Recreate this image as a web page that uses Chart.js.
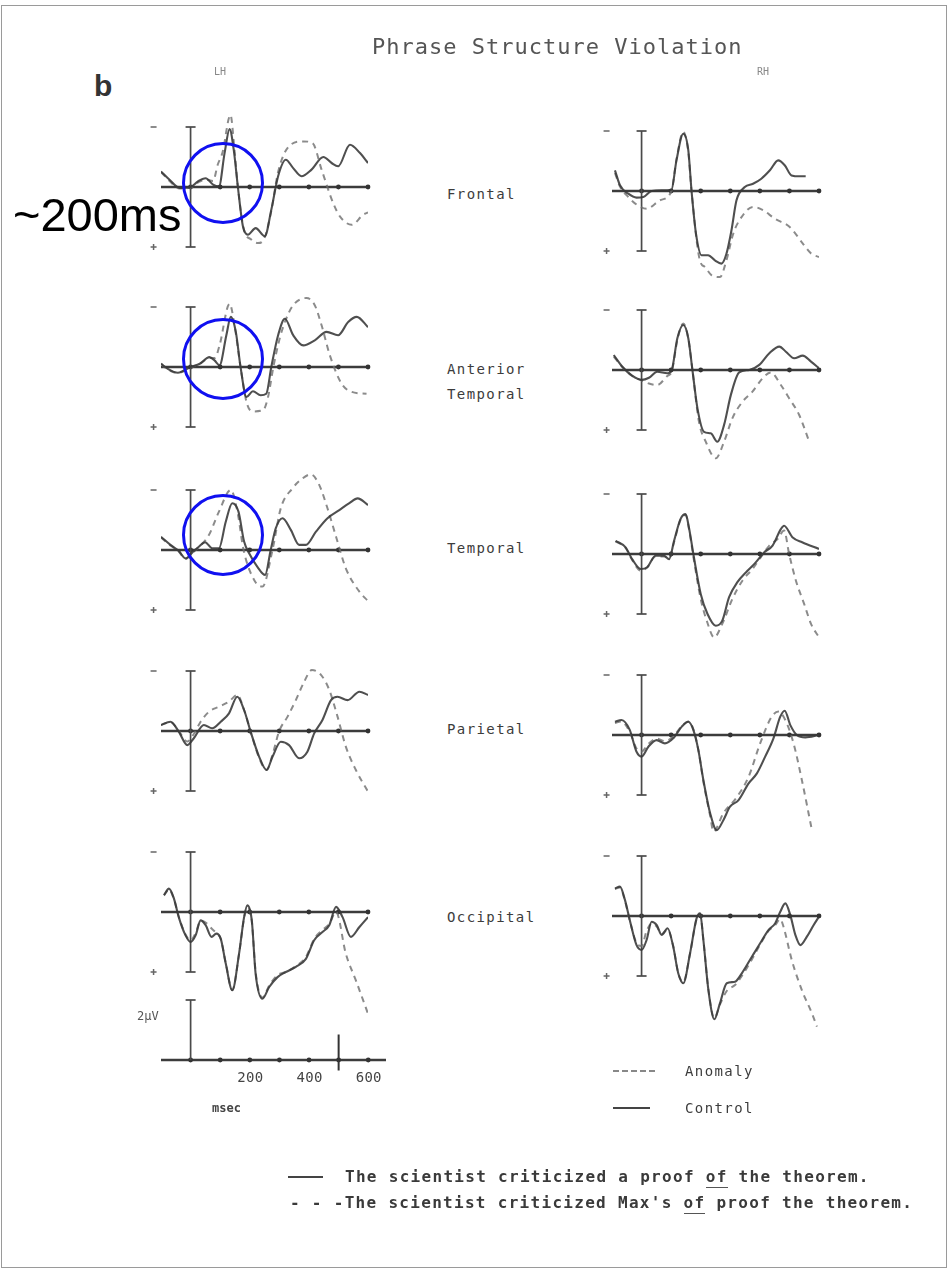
<!DOCTYPE html>
<html><head><meta charset="utf-8">
<script src="https://cdn.jsdelivr.net/npm/chart.js@4.4.0/dist/chart.umd.min.js"></script>
<style>
html,body{margin:0;padding:0;background:#fff;}
#page{position:relative;width:951px;height:1274px;overflow:hidden;background:#fff;}
#frame{position:absolute;left:1px;top:5px;width:944px;height:1261px;border:1.5px solid #9a9a9a;}
canvas.p{position:absolute;}
.t{position:absolute;font-family:"DejaVu Sans Mono","Liberation Mono",monospace;color:#444;white-space:pre;line-height:1;}
.circ{position:absolute;width:82px;height:82px;border:3px solid #1010f0;border-radius:50%;box-sizing:border-box;}
.u{border-bottom:1.5px solid #555;padding-bottom:1px;}
</style>
</head><body>
<div id="page"><div id="frame"></div></div>
<script>
// ---------------- DATA (time in ms, amplitude in µV; negative plotted up) ----------------
const tickTimes = [0, 100, 200, 300, 400, 500, 600];
const scaleTickValues = [200, 400, 600];
const scaleTickLabels = ['200', '400', '600'];
const regionNames = ['Frontal', 'Anterior\nTemporal', 'Temporal', 'Parietal', 'Occipital'];
const legendLabels = ['Anomaly', 'Control'];
const sentenceControl = ['The scientist criticized a proof ', 'of', ' the theorem.'];
const sentenceAnomaly = ['- - -The scientist criticized Max\'s ', 'of', ' proof the theorem.'];

// LH Frontal
const lhFrontalControl = [[-100,-0.52],[-71,-0.24],[-37,0.03],[0,0],[25,-0.19],[51,-0.29],[76,-0.08],[96,-0.02],[115,-1.13],[132,-1.93],[146,-1.24],[160,0],[177,1.31],[194,1.59],[220,1.37],[251,1.64],[273,0.76],[296,-0.36],[322,-0.91],[347,-0.63],[375,-0.36],[409,-0.58],[449,-1.0],[477,-0.8],[499,-0.69],[539,-1.41],[573,-1.13],[600,-0.8]];
const lhFrontalAnomaly = [[-100,-0.5],[-71,-0.2],[-37,0.05],[0,0.02],[25,-0.15],[51,-0.25],[76,-0.2],[92,-0.75],[108,-1.15],[135,-2.4],[148,-1.3],[160,0],[180,1.4],[205,1.75],[228,1.87],[250,1.7],[273,0.8],[296,-0.5],[333,-1.36],[381,-1.52],[412,-1.47],[443,-0.58],[482,0.53],[505,0.98],[545,1.26],[584,0.92],[600,0.85]];
// LH Anterior Temporal
const lhAntTempControl = [[-100,-0.11],[-77,0.06],[-43,0.19],[0,0],[31,-0.11],[64,-0.33],[81,-0.22],[98,-0.06],[121,-1.06],[136,-1.67],[153,-1.17],[169,0],[189,1.0],[211,0.81],[237,0.94],[256,0.89],[273,0],[296,-1.06],[319,-1.61],[347,-1.06],[381,-0.72],[420,-0.89],[460,-1.17],[499,-1.06],[533,-1.5],[562,-1.67],[600,-1.33]];
const lhAntTempAnomaly = [[-100,-0.1],[-77,0.08],[-43,0.2],[0,0.02],[31,-0.1],[64,-0.3],[82,-0.3],[98,-0.72],[132,-2.11],[150,-1.3],[169,0],[190,1.2],[211,1.48],[245,1.44],[262,1.0],[280,0],[300,-0.9],[319,-1.5],[347,-2.06],[392,-2.3],[420,-2.06],[443,-1.39],[471,-0.39],[511,0.56],[545,0.83],[595,0.89]];
// LH Temporal
const lhTemporalControl = [[-100,-0.44],[-68,-0.17],[-40,0.03],[-17,0.28],[6,0.08],[28,-0.11],[49,-0.26],[73,-0.06],[96,-0.06],[119,-0.94],[141,-1.56],[162,-1.28],[181,-0.28],[198,0.11],[226,0.56],[252,0.83],[271,0],[288,-0.72],[311,-1.06],[339,-0.67],[367,-0.17],[390,-0.17],[424,-0.61],[463,-1.06],[503,-1.33],[537,-1.56],[565,-1.72],[600,-1.5]];
const lhTemporalAnomaly = [[-100,-0.42],[-68,-0.15],[-40,0.05],[-17,0.3],[6,0.1],[28,-0.1],[62,-0.5],[96,-1.28],[136,-2.0],[160,-1.2],[178,-0.06],[215,1.0],[243,1.22],[277,0],[305,-1.39],[345,-2.06],[379,-2.39],[407,-2.52],[435,-2.17],[463,-1.39],[492,-0.44],[525,0.61],[571,1.39],[600,1.7]];
// LH Parietal
const lhParietalControl = [[-100,-0.2],[-68,-0.31],[-40,0.02],[-11,0.47],[11,0.24],[45,-0.2],[73,-0.09],[102,-0.31],[130,-0.59],[158,-1.14],[181,-0.7],[203,0.02],[232,0.86],[257,1.3],[277,0.86],[305,0.36],[333,0.47],[367,0.91],[395,0.69],[418,0.08],[446,-0.37],[475,-1.03],[497,-1.14],[531,-1.03],[571,-1.31],[600,-1.2]];
const lhParietalAnomaly = [[-100,-0.2],[-68,-0.3],[-40,0.0],[-11,0.35],[11,0.1],[34,-0.31],[62,-0.64],[96,-0.81],[130,-0.98],[158,-1.2],[181,-0.7],[203,0.02],[232,0.9],[257,1.3],[277,0.8],[299,0.02],[328,-0.48],[356,-1.03],[384,-1.64],[410,-2.03],[441,-1.87],[469,-1.37],[497,-0.48],[525,0.52],[559,1.3],[600,2.02]];
// LH Occipital
const lhOccipitalControl = [[-90,-0.56],[-73,-0.78],[-56,-0.44],[-40,0.17],[-17,0.78],[0,1.0],[17,0.78],[34,0.28],[51,0.44],[71,0.83],[87,0.72],[102,0.89],[119,1.72],[141,2.61],[164,1.39],[181,0.17],[192,-0.22],[207,0.28],[220,2.06],[243,2.89],[266,2.5],[294,2.17],[322,2.0],[356,1.83],[390,1.56],[418,0.94],[446,0.67],[469,0.44],[492,-0.17],[514,0.17],[542,0.83],[571,0.5],[600,0.17]];
const lhOccipitalAnomaly = [[-90,-0.55],[-73,-0.75],[-56,-0.42],[-40,0.15],[-17,0.75],[0,0.95],[17,0.7],[34,0.3],[51,0.35],[71,0.55],[87,0.7],[102,0.9],[119,1.7],[141,2.6],[164,1.4],[181,0.2],[192,-0.15],[207,0.3],[220,2.0],[243,2.85],[266,2.45],[294,2.1],[322,2.0],[356,1.8],[390,1.5],[418,0.9],[446,0.6],[469,0.4],[492,0.0],[525,1.39],[559,2.28],[600,3.39]];
// RH Frontal
const rhFrontalControl = [[-90,-0.69],[-73,-0.19],[-45,0.09],[-17,0.22],[6,0.2],[34,0],[68,-0.02],[101,-0.04],[118,-1.02],[141,-1.91],[158,-1.36],[169,0],[184,1.42],[203,2.14],[225,2.14],[248,2.31],[270,2.42],[287,2.09],[304,1.31],[321,0.31],[349,-0.13],[377,-0.24],[405,-0.41],[434,-0.69],[462,-1.02],[484,-0.86],[507,-0.52],[535,-0.49],[555,-0.49]];
const rhFrontalAnomaly = [[-90,-0.6],[-73,-0.15],[-45,0.2],[-17,0.45],[17,0.59],[62,0.31],[101,0],[118,-1.05],[141,-1.97],[158,-1.3],[169,0],[197,2.31],[214,2.53],[237,2.81],[265,2.87],[287,2.31],[310,1.42],[338,0.87],[377,0.53],[411,0.64],[450,0.92],[501,1.2],[546,1.76],[574,2.09],[600,2.2]];
// RH Anterior Temporal
const rhAntTempControl = [[-94,-0.5],[-65,-0.11],[-32,0.19],[0,0.33],[25,0.26],[53,0.06],[87,0.11],[102,0],[121,-1.06],[141,-1.5],[158,-1.06],[172,0],[189,1.28],[211,2.06],[234,2.11],[256,2.39],[279,1.83],[302,0.83],[330,0.08],[364,0],[398,-0.17],[432,-0.56],[466,-0.78],[488,-0.61],[516,-0.39],[545,-0.48],[573,-0.28],[600,-0.06]];
const rhAntTempAnomaly = [[-94,-0.45],[-65,-0.1],[-32,0.2],[0,0.35],[25,0.45],[53,0.5],[87,0.2],[102,0.05],[121,-1.0],[141,-1.55],[158,-1.05],[172,0],[194,1.72],[217,2.39],[251,2.94],[279,2.39],[307,1.61],[341,1.06],[375,0.72],[409,0.28],[437,0.08],[471,0.5],[499,0.94],[533,1.5],[567,2.39]];
// RH Temporal
const rhTemporalControl = [[-88,-0.44],[-54,-0.22],[-32,0.17],[-3,0.5],[19,0.44],[47,0.06],[76,0.06],[93,0.17],[110,-0.44],[132,-1.17],[149,-1.33],[160,-0.89],[177,0.11],[200,1.33],[223,2.0],[251,2.39],[273,2.22],[296,1.44],[324,0.94],[358,0.56],[386,0.28],[415,-0.06],[443,-0.28],[471,-0.83],[482,-0.94],[510,-0.56],[543,-0.39],[600,-0.17]];
const rhTemporalAnomaly = [[-88,-0.42],[-54,-0.2],[-32,0.2],[-3,0.55],[19,0.45],[47,0.08],[76,0.08],[93,0.15],[110,-0.4],[132,-1.15],[149,-1.3],[160,-0.85],[177,0.2],[200,1.5],[223,2.3],[245,2.78],[273,2.33],[307,1.5],[341,0.89],[375,0.5],[403,0.11],[432,-0.28],[460,-0.5],[482,-0.78],[499,0],[522,0.89],[550,1.67],[573,2.33],[600,2.78]];
// RH Parietal
const rhParietalControl = [[-90,-0.44],[-68,-0.5],[-40,-0.17],[-17,0.56],[0,0.72],[23,0.39],[51,0.17],[79,0.28],[107,0.11],[136,-0.28],[158,-0.44],[175,-0.17],[192,0.5],[209,1.5],[232,2.61],[254,3.17],[277,2.83],[299,2.39],[328,2.17],[362,1.61],[390,1.28],[418,0.72],[446,0.11],[469,-0.61],[484,-0.81],[503,-0.33],[525,0],[554,0.08],[600,0]];
const rhParietalAnomaly = [[-90,-0.4],[-68,-0.45],[-40,-0.1],[-17,0.45],[0,0.55],[23,0.3],[51,0.12],[79,0.2],[107,0.05],[136,-0.3],[158,-0.45],[175,-0.2],[192,0.5],[209,1.55],[232,2.7],[243,3.22],[277,2.6],[320,2.1],[362,1.39],[401,0.28],[440,-0.61],[463,-0.78],[486,-0.5],[514,0.28],[542,1.5],[576,3.17]];
// RH Occipital
const rhOccipitalControl = [[-90,-0.92],[-73,-0.98],[-56,-0.53],[-40,0.13],[-17,0.97],[0,1.13],[17,0.8],[34,0.19],[51,0.3],[68,0.63],[88,0.41],[107,1.02],[124,1.91],[141,2.24],[164,1.24],[186,0.08],[198,-0.09],[209,0.8],[226,2.47],[246,3.44],[265,2.91],[288,2.24],[316,2.19],[339,1.91],[373,1.36],[401,0.91],[429,0.47],[452,0.24],[469,-0.14],[486,-0.42],[503,-0.03],[520,0.63],[537,0.97],[559,0.69],[582,0.3],[600,0.02]];
const rhOccipitalAnomaly = [[-90,-0.9],[-73,-0.95],[-56,-0.5],[-40,0.15],[-17,0.9],[0,1.0],[17,0.5],[34,0.25],[51,0.35],[68,0.6],[88,0.45],[107,1.0],[124,1.9],[141,2.2],[164,1.25],[186,0.1],[198,-0.05],[209,0.8],[226,2.45],[246,3.4],[265,2.95],[288,2.5],[316,2.3],[339,2.0],[373,1.45],[401,0.95],[429,0.5],[452,0.3],[469,0.1],[480,0.36],[508,1.47],[542,2.47],[576,3.24],[593,3.69]];

// ---------------- LAYOUT ----------------
const PX_PER_MS = 207 / 700;   // horizontal scale
const PX_PER_UV = 30;          // vertical scale
const V_RANGE = 4.2;
const PAD = {left: 46, right: 12, top: 8, bottom: 8};

const erpAxes = {
  id: 'erp',
  beforeDatasetsDraw(chart, args, o) {
    const {ctx, scales: {x, y}} = chart;
    ctx.save();
    const yb = y.getPixelForValue(0);
    ctx.strokeStyle = '#3c3c3c'; ctx.lineWidth = 2.3;
    ctx.beginPath(); ctx.moveTo(x.getPixelForValue(o.from), yb); ctx.lineTo(x.getPixelForValue(o.to), yb); ctx.stroke();
    ctx.fillStyle = '#333';
    tickTimes.forEach(t => { ctx.beginPath(); ctx.arc(x.getPixelForValue(t), yb, 2.4, 0, Math.PI * 2); ctx.fill(); });
    const x0 = x.getPixelForValue(0);
    ctx.strokeStyle = '#4a4a4a'; ctx.lineWidth = 1.7;
    const yt = y.getPixelForValue(o.barTop), ybo = y.getPixelForValue(o.barBottom);
    ctx.beginPath(); ctx.moveTo(x0, yt); ctx.lineTo(x0, ybo); ctx.stroke();
    ctx.beginPath(); ctx.moveTo(x0 - 5, yt); ctx.lineTo(x0 + 5, yt); ctx.stroke();
    if (o.bottomCap) { ctx.beginPath(); ctx.moveTo(x0 - 5, ybo); ctx.lineTo(x0 + 5, ybo); ctx.stroke(); }
    if (o.signs) {
      const xs = x0 + o.signDx;
      ctx.strokeStyle = '#666'; ctx.lineWidth = 1.5;
      ctx.beginPath(); ctx.moveTo(xs - 3, yt); ctx.lineTo(xs + 3, yt); ctx.stroke();
      ctx.beginPath(); ctx.moveTo(xs - 3, ybo); ctx.lineTo(xs + 3, ybo); ctx.moveTo(xs, ybo - 3); ctx.lineTo(xs, ybo + 3); ctx.stroke();
    }
    if (o.marker != null) {
      const xm = x.getPixelForValue(o.marker);
      ctx.strokeStyle = '#333'; ctx.lineWidth = 2;
      ctx.beginPath(); ctx.moveTo(xm, y.getPixelForValue(-0.85)); ctx.lineTo(xm, y.getPixelForValue(0.35)); ctx.stroke();
    }
    ctx.restore();
  }
};

const page = document.getElementById('page');
function toXY(arr) { return arr.map(p => ({x: p[0], y: p[1]})); }

function makePanel(x0, base, ctrl, anom, erpOpts, xMax) {
  const xMin = -100;
  xMax = xMax || 600;
  const w = (xMax - xMin) * PX_PER_MS, h = 2 * V_RANGE * PX_PER_UV;
  const c = document.createElement('canvas');
  c.className = 'p';
  c.width = Math.round(w + PAD.left + PAD.right);
  c.height = Math.round(h + PAD.top + PAD.bottom);
  c.style.left = (x0 + xMin * PX_PER_MS - PAD.left) + 'px';
  c.style.top = (base - V_RANGE * PX_PER_UV - PAD.top) + 'px';
  page.appendChild(c);
  const datasets = [];
  if (ctrl) datasets.push({label: 'Control', data: toXY(ctrl), borderColor: 'rgba(55,55,55,0.88)', borderWidth: 2.1, fill: false, cubicInterpolationMode: 'monotone'});
  if (anom) datasets.push({label: 'Anomaly', data: toXY(anom), borderColor: 'rgba(110,110,110,0.8)', borderWidth: 2, borderDash: [6, 5], fill: false, cubicInterpolationMode: 'monotone'});
  const chart = new Chart(c, {
    type: 'line',
    data: {datasets},
    options: {
      responsive: false, animation: false, devicePixelRatio: 1,
      layout: {padding: PAD},
      elements: {point: {radius: 0}},
      scales: {
        x: {type: 'linear', min: xMin, max: xMax, display: false},
        y: {type: 'linear', min: -V_RANGE, max: V_RANGE, reverse: true, display: false}
      },
      plugins: {legend: {display: false}, tooltip: {enabled: false}, erp: erpOpts}
    },
    plugins: [erpAxes]
  });
  return {chart, canvas: c};
}

const std = {from: -100, to: 600, barTop: -2, barBottom: 2, bottomCap: true, signs: true, signDx: -37};
const panels = [
  [191, 187, lhFrontalControl, lhFrontalAnomaly],
  [191, 367, lhAntTempControl, lhAntTempAnomaly],
  [191, 550, lhTemporalControl, lhTemporalAnomaly],
  [191, 731, lhParietalControl, lhParietalAnomaly],
  [191, 912, lhOccipitalControl, lhOccipitalAnomaly],
  [642, 191, rhFrontalControl, rhFrontalAnomaly],
  [642, 370, rhAntTempControl, rhAntTempAnomaly],
  [642, 554, rhTemporalControl, rhTemporalAnomaly],
  [642, 735, rhParietalControl, rhParietalAnomaly],
  [642, 916, rhOccipitalControl, rhOccipitalAnomaly]
];
panels.forEach((p, i) => makePanel(p[0], p[1], p[2], p[3], Object.assign({}, std, {signDx: i < 5 ? -37 : -35})));

const sc = makePanel(191, 1060, null, null, {from: -100, to: 660, barTop: -2, barBottom: 0, bottomCap: false, signs: false, marker: 500}, 660);

// ---------------- TEXT ----------------
function addText(txt, left, top, css) {
  const d = document.createElement('div');
  d.className = 't'; d.textContent = txt; d.style.left = left + 'px'; d.style.top = top + 'px';
  Object.assign(d.style, css || {});
  page.appendChild(d); return d;
}
addText('Phrase Structure Violation', 372, 36, {fontSize: '22px', letterSpacing: '1px', color: '#555'});
addText('LH', 214, 67, {fontSize: '10px', color: '#888'});
addText('RH', 757, 67, {fontSize: '10px', color: '#888'});
addText('b', 94, 71, {fontFamily: '"Liberation Sans",Arial,sans-serif', fontWeight: 'bold', fontSize: '30px', color: '#333'});

const labelPos = [[447, 188], [447, 363], [447, 542], [447, 723], [447, 911]];
regionNames.forEach((n, i) => {
  addText(n, labelPos[i][0], labelPos[i][1], {fontSize: '14px', letterSpacing: '1.4px', lineHeight: '25px', marginTop: '-6px', color: '#3c3c3c'});
});

const xs = sc.chart.scales.x, off = parseFloat(sc.canvas.style.left);
scaleTickValues.forEach((v, i) => {
  const d = addText(scaleTickLabels[i], 0, 1070, {fontSize: '14px', letterSpacing: '0.3px'});
  d.style.left = (off + xs.getPixelForValue(v) - d.offsetWidth / 2) + 'px';
});
addText('2µV', 137, 1010, {fontSize: '12px', color: '#555'});
addText('msec', 212, 1102, {fontSize: '12px', fontWeight: 'bold', color: '#444'});

function legLine(left, top, width, dashed) {
  const d = document.createElement('div');
  d.style.cssText = 'position:absolute;left:' + left + 'px;top:' + top + 'px;width:' + width + 'px;border-top:2px ' + (dashed ? 'dashed #888' : 'solid #444') + ';';
  page.appendChild(d);
}
legLine(613, 1070, 42, true);
legLine(613, 1107, 37, false);
addText(legendLabels[0], 685, 1064, {fontSize: '14px', letterSpacing: '1.4px', color: '#3c3c3c'});
addText(legendLabels[1], 685, 1101, {fontSize: '14px', letterSpacing: '1.4px', color: '#3c3c3c'});

legLine(288, 1176, 35, false);
function sentence(parts, left, top) {
  const d = addText('', left, top, {fontSize: '16px', letterSpacing: '1.3px', fontWeight: 'bold', color: '#3a3a3a'});
  parts.forEach((s, i) => { const sp = document.createElement('span'); sp.textContent = s; if (i === 1) sp.className = 'u'; d.appendChild(sp); });
}
sentence(sentenceControl, 345, 1169);
sentence(sentenceAnomaly, 290, 1195);

addText('~200ms', 13, 191, {fontFamily: '"Liberation Sans",Arial,sans-serif', fontSize: '47px', color: '#000'});
[[182, 142], [182, 318], [182, 494]].forEach(p => {
  const d = document.createElement('div'); d.className = 'circ'; d.style.left = p[0] + 'px'; d.style.top = p[1] + 'px'; page.appendChild(d);
});
</script>
</body></html>
